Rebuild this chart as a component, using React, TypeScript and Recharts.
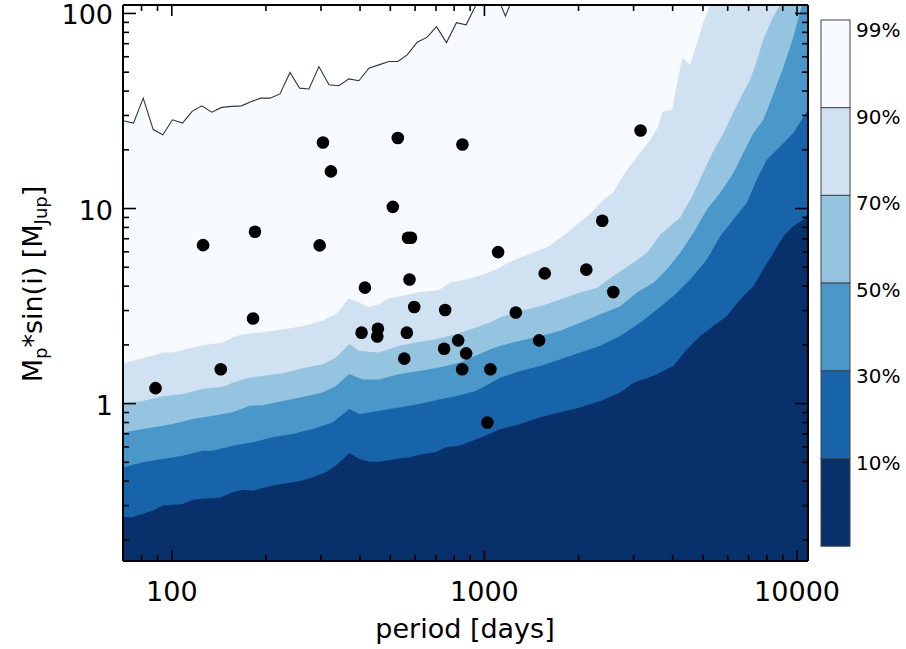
import React from 'react';
import { ComposedChart, Area, Line, Scatter, XAxis, YAxis } from 'recharts';

// ---- contour boundaries (period [days], M sin i [MJup]) ----
const p99 = [69.8, 75.4, 81.0, 87.2, 93.6, 100.5, 108.2, 116.1, 124.7, 134.2, 144.4, 155.5, 167.0, 179.7, 192.5, 206.1, 221.8, 238.8, 256.4, 274.6, 295.5, 318.2, 342.3, 368.6, 396.7, 427.0, 459.5, 494.6, 528.4, 566.2, 609.5, 656.0, 702.4, 756.2, 813.8, 874.0, 936.0, 1007, 1084, 1167, 1256, 1352, 2348, 10840];
const m99 = [28.2, 27.4, 36.8, 25.4, 23.9, 28.5, 27.4, 31.5, 33.6, 31.2, 33.0, 33.4, 33.6, 35.4, 36.8, 36.8, 38.7, 49.8, 41.4, 41.0, 53.4, 43.1, 42.6, 46.2, 45.2, 52.4, 54.5, 56.7, 56.7, 61.3, 71.2, 75.6, 85.6, 70.9, 89.7, 87.4, 109.2, 131.9, 128.8, 97.1, 128.8, 167, 500, 2000];

const p90 = [69.8, 80.8, 93.6, 100.7, 108.4, 125.6, 145.5, 156.6, 168.6, 195.3, 226.2, 262.0, 303.7, 336.6, 367.8, 395.8, 426.1, 458.5, 493.5, 539.0, 615.3, 712.8, 778.8, 876.0, 1000, 1109, 1193, 1382, 1602, 1828, 1997, 2182, 2400, 2583, 2781, 3083, 3392, 3597, 3705, 3988, 4077, 4292, 4550, 4791, 5007, 5272, 5675, 10840];
const m90 = [1.61, 1.71, 1.83, 1.83, 1.88, 1.99, 2.06, 2.19, 2.27, 2.32, 2.40, 2.49, 2.67, 2.90, 3.46, 3.31, 3.12, 3.23, 3.46, 3.55, 3.72, 3.81, 4.18, 4.33, 4.60, 4.93, 5.29, 5.82, 6.39, 7.45, 8.38, 9.43, 11.1, 12.1, 14.8, 18.5, 22.5, 26.3, 31.3, 32.1, 39.2, 59.2, 54.5, 70.7, 89.4, 110.5, 148, 3000];

const p70 = [69.8, 80.8, 93.6, 108.4, 125.6, 145.5, 156.6, 177.5, 195.3, 226.2, 268.0, 303.7, 334.2, 369.7, 397.9, 460.9, 534.0, 602.0, 697.4, 807.8, 936.0, 1061, 1125, 1303, 1510, 1749, 2026, 2296, 2583, 2992, 3317, 3650, 4228, 4653, 5007, 5391, 5801, 6245, 6722, 7077, 7451, 7788, 8381, 8825, 9498, 10840];
const m70 = [1.006, 1.03, 1.09, 1.12, 1.19, 1.22, 1.28, 1.36, 1.39, 1.43, 1.53, 1.59, 1.72, 2.02, 1.86, 1.83, 1.98, 2.06, 2.14, 2.27, 2.45, 2.64, 2.77, 2.98, 3.16, 3.42, 3.71, 3.93, 4.51, 5.28, 5.93, 7.36, 8.99, 11.8, 15.3, 19.6, 24.2, 31.0, 39.2, 45.7, 57.8, 73.2, 96.0, 110.5, 148, 300];

const p50 = [69.8, 80.8, 93.6, 100.7, 116.7, 135.2, 156.6, 177.1, 195.3, 226.2, 262.0, 303.7, 334.9, 369.7, 407.6, 460.9, 534.0, 618.6, 716.6, 830.4, 938.2, 1045, 1125, 1303, 1510, 1749, 2026, 2348, 2720, 3075, 3475, 3835, 4228, 4664, 5147, 5675, 6259, 6737, 7252, 7806, 8381, 9022, 9710, 10223, 10840];
const m50 = [0.712, 0.741, 0.770, 0.785, 0.833, 0.866, 0.902, 0.974, 0.982, 1.03, 1.08, 1.14, 1.23, 1.42, 1.33, 1.33, 1.42, 1.47, 1.53, 1.62, 1.76, 1.90, 1.98, 2.10, 2.22, 2.36, 2.60, 2.87, 3.16, 3.71, 4.17, 4.88, 5.93, 7.51, 9.88, 12.0, 15.2, 19.3, 24.4, 28.5, 38.3, 52.6, 74.9, 101.8, 140];

const p30 = [69.8, 80.8, 93.6, 108.4, 125.6, 135.2, 156.6, 181.5, 210.2, 243.6, 282.2, 326.9, 369.7, 397.9, 460.9, 534.0, 618.6, 716.6, 830.4, 938.2, 1045, 1125, 1303, 1510, 1749, 2026, 2348, 2720, 3151, 3563, 4025, 4550, 5147, 5675, 6259, 6909, 7434, 8002, 8825, 9731, 10840];
const m30 = [0.472, 0.500, 0.520, 0.541, 0.574, 0.574, 0.608, 0.633, 0.672, 0.698, 0.741, 0.801, 0.937, 0.884, 0.919, 0.956, 0.994, 1.05, 1.10, 1.16, 1.27, 1.36, 1.47, 1.56, 1.69, 1.83, 1.98, 2.22, 2.60, 3.04, 3.56, 4.33, 5.48, 7.22, 8.78, 10.7, 14.1, 17.8, 20.8, 24.4, 32.1];

const p10 = [69.8, 75.1, 87.0, 93.6, 100.7, 108.4, 116.7, 125.6, 142.0, 156.6, 168.6, 181.5, 210.2, 243.6, 262.0, 282.2, 311.2, 334.9, 369.7, 397.9, 428.2, 460.9, 520.7, 574.6, 633.8, 698.8, 752.2, 830.4, 915.6, 985.4, 1125, 1303, 1510, 1749, 2026, 2348, 2720, 2999, 3475, 4025, 4442, 4898, 5402, 5963, 6575, 7252, 7806, 8401, 9042, 9731, 10490, 10840];
const m10 = [0.262, 0.262, 0.283, 0.300, 0.303, 0.306, 0.321, 0.325, 0.329, 0.351, 0.362, 0.358, 0.380, 0.395, 0.403, 0.419, 0.445, 0.481, 0.558, 0.520, 0.504, 0.504, 0.520, 0.531, 0.552, 0.563, 0.597, 0.608, 0.645, 0.674, 0.741, 0.785, 0.850, 0.902, 0.956, 1.03, 1.14, 1.28, 1.39, 1.56, 1.90, 2.22, 2.50, 2.81, 3.42, 4.00, 4.88, 5.93, 7.22, 8.12, 8.78, 9.54];

// ---- detected planets ----
const planetP = [88.7, 143.4, 125.9, 184.5, 181.9, 304.4, 322.8, 297.1, 528.4, 850.5, 509.3, 569.6, 582.3, 575.9, 414.7, 596.2, 748.8, 1260, 404.6, 456.2, 454.2, 564.6, 824.1, 743.3, 874.0, 554.0, 848.7, 1045, 1022, 1106, 1559, 2118, 2382, 2583, 1496, 3158];
const planetM = [1.20, 1.50, 6.49, 7.60, 2.73, 21.8, 15.5, 6.47, 23.0, 21.3, 10.2, 7.08, 7.08, 4.33, 3.93, 3.13, 3.02, 2.93, 2.31, 2.42, 2.21, 2.31, 2.11, 1.91, 1.81, 1.70, 1.50, 1.50, 0.80, 5.98, 4.65, 4.86, 8.65, 3.73, 2.11, 25.1];

// ---- levels / colorbar ----
const levelLabels = ['99%', '90%', '70%', '50%', '30%', '10%'];
const levelColors = ['#f7fbff', '#d0e1f2', '#94c4df', '#4a98c9', '#1764ab', '#08306b'];

// ---- axes ----
const xDomain = [69.8, 10840];
const yDomain = [0.156, 110.5];
const xMajor = [100, 1000, 10000];
const xMajorLabels = ['100', '1000', '10000'];
const xTicks = [80, 90, 100, 200, 300, 400, 500, 600, 700, 800, 900, 1000, 2000, 3000, 4000, 5000, 6000, 7000, 8000, 9000, 10000];
const yMajor = [1, 10, 100];
const yMajorLabels = ['1', '10', '100'];
const yTicks = [0.2, 0.3, 0.4, 0.5, 0.6, 0.7, 0.8, 0.9, 1, 2, 3, 4, 5, 6, 7, 8, 9, 10, 20, 30, 40, 50, 60, 70, 80, 90, 100];

const FONT = '"DejaVu Sans", sans-serif';

const toRows = (ps: number[], ms: number[]) => ps.map((p, i) => ({ p, m: ms[i] }));
const d99 = toRows(p99, m99);
const d90 = toRows(p90, m90);
const d70 = toRows(p70, m70);
const d50 = toRows(p50, m50);
const d30 = toRows(p30, m30);
const d10 = toRows(p10, m10);
const planets = toRows(planetP, planetM);
const contours = [d99, d90, d70, d50, d30, d10];

const BottomTick = (props: any) => {
  const { x, y, payload } = props;
  const idx = xMajor.indexOf(payload.value);
  const major = idx >= 0;
  return (
    <g>
      <line x1={x} y1={y} x2={x} y2={y - (major ? 11 : 6)} stroke="#000" strokeWidth={1.6} />
      {major && (
        <text x={x} y={y + 40} textAnchor="middle" fontFamily={FONT} fontSize={27} fill="#000">
          {xMajorLabels[idx]}
        </text>
      )}
    </g>
  );
};

const TopTick = (props: any) => {
  const { x, y, payload } = props;
  const major = xMajor.indexOf(payload.value) >= 0;
  return <line x1={x} y1={y} x2={x} y2={y + (major ? 11 : 6)} stroke="#000" strokeWidth={1.6} />;
};

const LeftTick = (props: any) => {
  const { x, y, payload } = props;
  const idx = yMajor.indexOf(payload.value);
  const major = idx >= 0;
  return (
    <g>
      <line x1={x} y1={y} x2={x + (major ? 13 : 6)} y2={y} stroke="#000" strokeWidth={1.6} />
      {major && (
        <text x={x - 10} y={y + 11} textAnchor="end" fontFamily={FONT} fontSize={27} fill="#000">
          {yMajorLabels[idx]}
        </text>
      )}
    </g>
  );
};

const RightTick = (props: any) => {
  const { x, y, payload } = props;
  const major = yMajor.indexOf(payload.value) >= 0;
  return <line x1={x} y1={y} x2={x - (major ? 13 : 6)} y2={y} stroke="#000" strokeWidth={1.6} />;
};

const Dot = (props: any) => <circle cx={props.cx} cy={props.cy} r={6.3} fill="#000" />;

export default function App() {
  const barX = 821;
  const barW = 29;
  const barTop = 20;
  const segH = 87.7;
  return (
    <div style={{ position: 'absolute', left: 0, top: 0, width: 906, height: 649, background: '#fff' }}>
      <ComposedChart width={906} height={649} margin={{ top: 0, right: 88, bottom: 58, left: 63 }}>
        <XAxis
          xAxisId="bottom"
          dataKey="p"
          type="number"
          scale="log"
          domain={xDomain}
          allowDataOverflow
          ticks={xTicks}
          interval={0}
          tickSize={0}
          tickMargin={0}
          tickLine={false}
          tick={<BottomTick />}
          axisLine={{ stroke: '#000', strokeWidth: 2 }}
          orientation="bottom"
          height={30}
        />
        <XAxis
          xAxisId="top"
          dataKey="p"
          type="number"
          scale="log"
          domain={xDomain}
          allowDataOverflow
          ticks={xTicks}
          interval={0}
          tickSize={0}
          tickMargin={0}
          tickLine={false}
          tick={<TopTick />}
          axisLine={{ stroke: '#000', strokeWidth: 2 }}
          orientation="top"
          height={5}
        />
        <YAxis
          yAxisId="left"
          dataKey="m"
          type="number"
          scale="log"
          domain={yDomain}
          allowDataOverflow
          ticks={yTicks}
          interval={0}
          tickSize={0}
          tickMargin={0}
          tickLine={false}
          tick={<LeftTick />}
          axisLine={{ stroke: '#000', strokeWidth: 2 }}
          orientation="left"
          width={60}
        />
        <YAxis
          yAxisId="right"
          dataKey="m"
          type="number"
          scale="log"
          domain={yDomain}
          allowDataOverflow
          ticks={yTicks}
          interval={0}
          tickSize={0}
          tickMargin={0}
          tickLine={false}
          tick={<RightTick />}
          axisLine={{ stroke: '#000', strokeWidth: 2 }}
          orientation="right"
          width={10}
        />
        {contours.map((d, i) => (
          <Area
            key={'a' + i}
            data={d}
            xAxisId="bottom"
            yAxisId="left"
            dataKey="m"
            type="linear"
            baseValue="dataMin"
            fill={levelColors[i]}
            fillOpacity={1}
            stroke="none"
            isAnimationActive={false}
          />
        ))}
        <Line
          data={d99}
          xAxisId="bottom"
          yAxisId="left"
          dataKey="m"
          type="linear"
          stroke="#333"
          strokeWidth={1.1}
          dot={false}
          isAnimationActive={false}
        />
        <Scatter
          data={planets}
          xAxisId="bottom"
          yAxisId="left"
          dataKey="m"
          shape={<Dot />}
          isAnimationActive={false}
        />
      </ComposedChart>
      <svg width={906} height={649} style={{ position: 'absolute', left: 0, top: 0, pointerEvents: 'none' }}>
        <text x={465} y={638} textAnchor="middle" fontFamily={FONT} fontSize={27} fill="#000" style={{ whiteSpace: 'pre' }}>
          period [days]
        </text>
        <text
          transform="translate(42,284) rotate(-90)"
          textAnchor="middle"
          fontFamily={FONT}
          fontSize={27}
          fill="#000"
          style={{ whiteSpace: 'pre' }}
        >
          M<tspan fontSize={18} dy={5}>p</tspan>
          <tspan dy={-5}>*sin(i) [M</tspan>
          <tspan fontSize={18} dy={5}>Jup</tspan>
          <tspan dy={-5}>]</tspan>
        </text>
        {levelColors.map((c, i) => (
          <rect key={'c' + i} x={barX} y={barTop + i * segH} width={barW} height={segH} fill={c} stroke="#444" strokeWidth={1} />
        ))}
        {levelLabels.map((l, i) => (
          <text key={'l' + i} x={856} y={barTop + 17 + i * 86.5} fontFamily={FONT} fontSize={20} fill="#000">
            {l}
          </text>
        ))}
      </svg>
    </div>
  );
}
